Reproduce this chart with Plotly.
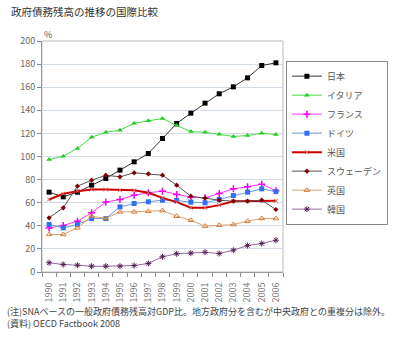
import plotly.graph_objects as go

years = [str(y) for y in range(1990, 2007)]

japan   = [69.1, 65.1, 69.1, 75.2, 81.0, 88.2, 95.4, 102.6, 115.6, 128.6, 137.5, 146.2, 154.3, 160.3, 168.1, 178.8, 181.1]
italy   = [97.4, 100.3, 106.9, 116.7, 121.0, 122.8, 128.8, 130.9, 132.9, 126.8, 121.6, 121.0, 119.3, 117.3, 118.2, 120.2, 119.0]
france  = [38.2, 40.3, 44.0, 51.2, 60.5, 62.8, 66.5, 68.6, 70.0, 67.1, 64.8, 64.2, 68.0, 72.0, 73.8, 76.0, 70.3]
germany = [41.1, 38.2, 41.1, 46.3, 46.3, 56.4, 59.3, 60.8, 62.2, 61.9, 60.5, 59.9, 62.8, 66.2, 69.1, 72.0, 69.7]
usa     = [62.8, 67.7, 70.0, 71.4, 71.4, 70.8, 70.8, 68.6, 64.2, 60.5, 55.6, 55.6, 57.9, 61.3, 61.3, 61.6, 61.6]
sweden  = [46.9, 55.6, 74.3, 79.5, 83.8, 82.4, 85.9, 85.0, 83.8, 75.2, 65.6, 63.9, 62.2, 61.3, 61.3, 62.2, 54.1]
uk      = [32.5, 32.5, 38.2, 48.3, 46.3, 52.1, 52.1, 52.6, 53.2, 48.3, 44.8, 39.7, 40.5, 41.1, 44.0, 46.3, 46.3]
korea   = [8.0, 6.5, 5.9, 5.0, 5.0, 5.0, 5.6, 7.4, 13.2, 15.8, 16.3, 17.1, 16.0, 18.9, 22.9, 24.7, 27.5]

names = ["日本", "イタリア", "フランス", "ドイツ", "米国", "スウェーデン", "英国", "韓国"]
series = [japan, italy, france, germany, usa, sweden, uk, korea]
y_ticks = list(range(0, 201, 20))

styles = [
    dict(line=dict(color="#333333", width=1), marker=dict(symbol="square", size=5, color="#000000")),
    dict(line=dict(color="#44DD44", width=1), marker=dict(symbol="triangle-up", size=5, color="#22CC22")),
    dict(line=dict(color="#FF33FF", width=1), marker=dict(symbol="cross-thin", size=5, color="#EE00EE", line=dict(width=1.5, color="#EE00EE"))),
    dict(line=dict(color="#6A9AD8", width=1), marker=dict(symbol="square", size=5, color="#3070F0")),
    dict(line=dict(color="#CC0000", width=2), marker=dict(symbol="x-thin", size=4, color="#E06060", line=dict(width=1, color="#E06060"))),
    dict(line=dict(color="#555555", width=1), marker=dict(symbol="diamond", size=4, color="#800000")),
    dict(line=dict(color="#E0A070", width=1), marker=dict(symbol="triangle-up-open", size=5, color="#D08040")),
    dict(line=dict(color="#9A6A9A", width=1), marker=dict(symbol="asterisk-open", size=5, color="#552255", line=dict(width=1, color="#552255"))),
]

fig = go.Figure()
for name, vals, st in zip(names, series, styles):
    fig.add_trace(go.Scatter(x=years, y=vals, name=name, mode="lines+markers",
                             line=st["line"], marker=st["marker"]))

font_jp = "Noto Sans CJK JP, sans-serif"

fig.update_layout(
    width=400, height=342,
    margin=dict(l=42, r=100, t=41, b=70, pad=0),
    paper_bgcolor="white", plot_bgcolor="white",
    font=dict(family=font_jp, size=9, color="#555555"),
    showlegend=True,
    legend=dict(x=1.012, y=0.56, xanchor="left", yanchor="middle",
                bordercolor="#888888", borderwidth=1, bgcolor="white",
                font=dict(size=9, color="#555555"), itemwidth=30,
                tracegroupgap=0),
    xaxis=dict(type="category", tickangle=-90, ticks="outside", ticklen=4,
               tickson="boundaries", tickcolor="#888888", ticklabelstandoff=6,
               showline=True, linecolor="#999999", mirror=False,
               showgrid=False, tickfont=dict(size=9, color="#777777"),
               range=[-0.5, 16.5]),
    yaxis=dict(range=[0, 200], tickvals=y_ticks, ticks="outside", ticklen=4,
               tickcolor="#888888", showline=True, linecolor="#999999",
               showgrid=True, gridcolor="#D3DDE8", gridwidth=1,
               tickfont=dict(size=9, color="#666666"), zeroline=False),
    shapes=[dict(type="rect", xref="paper", yref="paper", x0=0, y0=0, x1=1, y1=1,
                 line=dict(color="#BBBBBB", width=1), layer="below")],
    annotations=[
        dict(text="政府債務残高の推移の国際比較", xref="paper", yref="paper",
             x=-0.137, y=1.126, xanchor="left", yanchor="middle", showarrow=False,
             font=dict(size=10.5, color="#333333")),
        dict(text="%", xref="paper", yref="paper", x=0.0, y=1.03,
             xanchor="left", yanchor="middle", showarrow=False,
             font=dict(size=9, color="#555555")),
        dict(text="(注)SNAベースの一般政府債務残高対GDP比。地方政府分を含むが中央政府との重複分は除外。<br>(資料) OECD Factbook 2008",
             xref="paper", yref="paper", x=-0.153, y=-0.196, xanchor="left", yanchor="middle",
             align="left", showarrow=False, font=dict(size=9, color="#444444")),
    ],
)

fig.write_html("out.html")
